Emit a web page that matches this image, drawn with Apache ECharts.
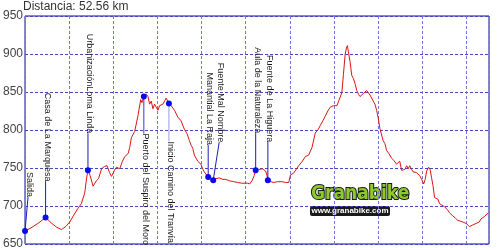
<!DOCTYPE html>
<html><head><meta charset="utf-8">
<script src="https://cdn.jsdelivr.net/npm/echarts@6/dist/echarts.min.js"></script>
<style>html,body{margin:0;padding:0;background:#fff}#c{width:500px;height:250px}</style>
</head><body><div id="c"></div>
<script>
// ---- data ----
const titleText = 'Distancia: 52.56 km';
const totalKm = 52.56;
const yTicks = [650, 700, 750, 800, 850, 900, 950];

const profileKm = [0,0.79,1.58,2.33,3.04,3.6,4.13,4.62,5.07,5.52,6.0,6.38,6.76,6.98,7.13,7.38,7.71,8.07,8.33,8.67,9.0,9.29,9.57,9.8,10.14,10.36,10.73,11.04,11.3,11.68,11.86,12.05,12.42,12.8,13.1,13.25,13.46,13.74,13.93,14.11,14.3,14.49,14.67,14.86,15.06,15.24,15.62,15.99,16.3,16.55,16.93,17.31,17.68,18.05,18.36,18.62,18.81,19.0,19.18,19.37,19.56,19.93,20.12,20.3,20.5,20.75,21.06,21.32,21.62,21.99,22.41,22.75,23.2,23.65,24.07,24.55,25.19,25.45,25.75,25.96,26.13,26.46,26.88,27.25,27.42,27.51,27.82,28.19,28.6,29.13,29.5,29.88,30.07,30.41,30.63,31.0,31.42,31.76,32.13,32.51,32.88,33.22,33.45,33.78,34.0,34.35,34.57,34.94,35.33,35.53,35.7,35.89,36.07,36.26,36.41,36.52,36.63,36.82,37.01,37.19,37.39,37.58,37.78,37.95,38.14,38.32,38.7,38.9,39.08,39.45,39.64,39.83,40.01,40.2,40.43,40.57,40.77,40.96,41.22,41.52,41.78,42.08,42.26,42.45,42.65,42.79,43.02,43.24,43.41,43.58,43.77,43.95,44.34,44.71,44.93,45.16,45.33,45.5,45.72,45.89,46.06,46.21,46.4,46.59,46.77,46.96,47.52,47.86,48.09,48.31,48.46,48.76,49.02,49.32,49.59,49.97,50.14,50.34,50.53,50.71,51.09,51.46,51.65,52.03,52.48];
const profileElev = [667,672,678,685,677,672,669,673,679,688,697,703,717,737,747,740,726,733,736,749,752,753,744,739,747,751,749,759,765,769,777,790,798,819,840,836,844,847,844,834,838,828,834,830,826,832,834,842,835,832,826,817,812,801,795,786,780,776,767,763,759,755,749,745,742,738,735,734,736,737,735,735,733,732,731,730,730,729,734,740,747,748,749,746,740,734,732,731,732,732,731,731,741,743,745,753,759,765,767,777,796,801,806,813,818,826,830,832,832,838,840,849,873,899,908,911,903,890,872,868,861,852,847,844,845,848,852,850,846,838,834,826,816,802,792,786,782,773,769,763,760,755,757,759,747,749,748,753,749,753,752,745,744,740,735,729,735,746,751,748,737,727,711,711,709,703,699,695,691,690,687,684,681,680,679,677,675,673,673,675,677,679,683,686,691];

const wpNames = ['Salida','Casa de La Marquesa','UrbanizaciónLoma Linda','Puerto del Suspiro del Moro','Inicio Camino del Tranvía','Manantial La Raja','Fuente Mal Nombre','Aula de la Naturaleza','Fuente de La Higuera'];
const wpKm = [0, 2.33, 7.13, 13.46, 16.3, 20.75, 21.32, 26.13, 27.51];
const wpElev = [667, 685, 747, 844, 835, 738, 734, 747, 734];

// ---- layout / style (not data) ----
const wpDir = [1,1,1,-1,-1,1,1,1,1];      // 1: label above point, -1: below
const wpShift = [3,0,0,0,0,0,6,0,0];      // horizontal shift of leader end (px)
const wpLeaderLen = [34,36,37,37,38,32,38,37,38];
const wpLeaderColor = ['#1c1cc0','#1c1cc0','#1c1cc0','#3a3ad0','#9c9ce6','#1c1cc0','#1c1cc0','#1c1cc0','#1c1cc0'];

const chart = echarts.init(document.getElementById('c'), null, {renderer:'canvas'});
const lineData = profileKm.map((k,i)=>[k, profileElev[i]]);
const wpData = wpKm.map((k,i)=>[k, wpElev[i], i]);

chart.setOption({
  animation:false,
  backgroundColor:'#ffffff',
  title:{text:titleText,left:23,top:1,padding:0,
    textStyle:{fontSize:12,fontWeight:'normal',color:'#333',fontFamily:'Liberation Sans, Arial, sans-serif'}},
  grid:{left:23,top:16,right:11,height:245.6,show:true,borderColor:'#0a0a9a',borderWidth:1,backgroundColor:'transparent'},
  xAxis:{type:'value',min:0,max:totalKm,interval:5,
    axisLine:{show:false},axisTick:{show:false},axisLabel:{show:false},
    splitLine:{show:true,lineStyle:{color:'#7676d8',type:[3,2],width:1}}},
  yAxis:{type:'value',min:yTicks[0],max:yTicks[yTicks.length-1],interval:50,
    axisLine:{show:false},axisTick:{show:false},
    axisLabel:{show:true,margin:2,fontSize:12,color:'#444',fontFamily:'Liberation Sans, Arial, sans-serif',
      padding:[0,0,6,0]},
    splitLine:{show:true,lineStyle:{color:'#4646c0',type:[3,2],width:1}}},
  series:[
    {type:'line',data:lineData,showSymbol:false,symbol:'none',
      lineStyle:{color:'#dc1414',width:1},z:3},
    {type:'custom',data:wpData,z:5,
      renderItem:function(params,api){
        const i = api.value(2);
        const p = api.coord([api.value(0),api.value(1)]);
        const dir = wpDir[i];
        const ex = p[0] + wpShift[i];
        const ey = p[1] - dir*wpLeaderLen[i];
        return {type:'group',children:[
          {type:'line',shape:{x1:p[0],y1:p[1],x2:ex,y2:ey},style:{stroke:wpLeaderColor[i],lineWidth:1}},
          {type:'circle',shape:{cx:p[0],cy:p[1],r:3},style:{fill:'#0a0af0'}},
          {type:'text',x:ex+1.5,y:ey,rotation:-Math.PI/2,
            style:{text:wpNames[i],fill:'#1a1a1a',font:'9px "Liberation Sans", Arial, sans-serif',
              align: dir===1 ? 'right':'left', verticalAlign:'middle'}}
        ]};
      }}
  ],
  graphic:[
    {type:'group',left:310,top:184,z:10,children:[
      {type:'rect',shape:{x:0,y:21,width:80,height:10,r:2},style:{fill:'#1a1a1a'}},
      {type:'text',x:1,y:0,style:{text:'Granabike',fill:'#8ccc2a',stroke:'#1a1a1a',lineWidth:2,
        font:'bold 19px "DejaVu Sans Condensed", "Liberation Sans Narrow", sans-serif'}},
      {type:'text',x:40,y:22,style:{text:'www.granabike.com',fill:'#ffffff',align:'center',
        font:'bold 8px "Liberation Sans Narrow", sans-serif'}}
    ]}
  ]
});
</script></body></html>
